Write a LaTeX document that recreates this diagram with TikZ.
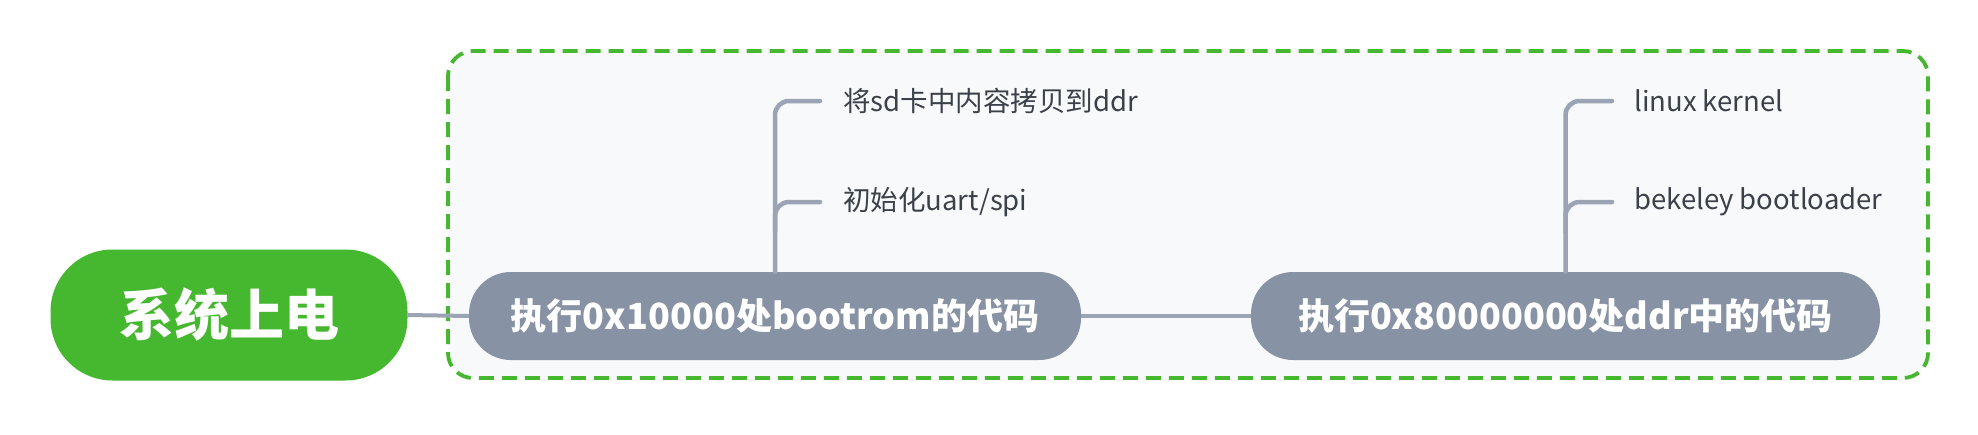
\documentclass[tikz,border=0pt]{standalone}
\usepackage{fontspec}
\newfontfamily\cjk{Noto Sans CJK SC}
\definecolor{mgreen}{HTML}{46B82F}
\definecolor{mgray}{HTML}{8792A4}
\definecolor{lgray}{HTML}{9AA4B4}
\definecolor{boxbg}{HTML}{F7F9FA}
\definecolor{txt}{HTML}{3C4049}
\tikzset{
  rootnode/.style={fill=mgreen, text=white, rounded corners=62pt, minimum width=357pt, minimum height=131pt, font=\cjk\bfseries\fontsize{55}{66}\selectfont, inner sep=0pt},
  mainnode/.style={fill=mgray, text=white, rounded corners=42pt, minimum height=88pt, font=\cjk\bfseries\fontsize{36}{44}\selectfont, inner sep=0pt},
  leaf/.style={text=txt, anchor=west, font=\cjk\fontsize{27.5}{33}\selectfont, inner sep=0pt},
  conn/.style={draw=lgray, line width=4pt},
  branch/.style={draw=lgray, line width=4.5pt, rounded corners=14pt, line cap=round},
}
\begin{document}
\begin{tikzpicture}[x=1pt,y=-1pt]
\useasboundingbox (0,0) rectangle (1978,434);
\fill[white] (0,0) rectangle (1978,434);
\draw[draw=mgreen, fill=boxbg, line width=3.8pt, dash pattern=on 15pt off 8pt, rounded corners=25pt] (448,51) rectangle (1928,378);
\node[rootnode] (root) at (229,315) {系统上电};
\node[mainnode, minimum width=612pt] (n1) at (775,316) {执行0x10000处bootrom的代码};
\node[mainnode, minimum width=629pt] (n2) at (1565.5,316) {执行0x80000000处ddr中的代码};
\node[leaf] (a1) at (843,101) {将sd卡中内容拷贝到ddr};
\node[leaf] (a2) at (843,202) {初始化uart/spi};
\node[leaf] (b1) at (1634,101) {linux kernel};
\node[leaf] (b2) at (1634,202) {bekeley bootloader};
\coordinate (a1s) at (820,101);
\coordinate (a2s) at (820,202);
\coordinate (b1s) at (1612,101);
\coordinate (b2s) at (1612,202);
\draw[conn] (root.east) -- (n1.west);
\draw[conn] (n1.east) -- (n2.west);
\draw[branch] (n1.north) -- (n1.north |- a1s) -- (a1s);
\draw[branch] ([yshift=-30pt]n1.north |- a2s) -- (n1.north |- a2s) -- (a2s);
\draw[branch] (n2.north) -- (n2.north |- b1s) -- (b1s);
\draw[branch] ([yshift=-30pt]n2.north |- b2s) -- (n2.north |- b2s) -- (b2s);
\end{tikzpicture}
\end{document}
